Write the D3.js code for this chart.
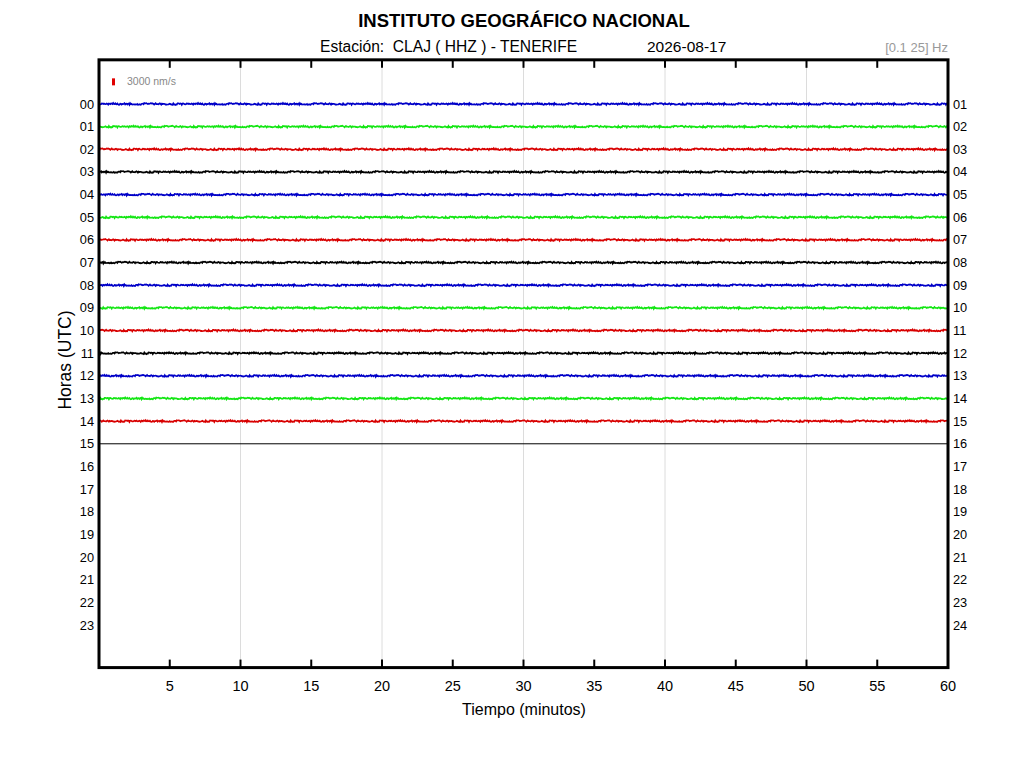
<!DOCTYPE html>
<html>
<head>
<meta charset="utf-8">
<script src="https://cdn.jsdelivr.net/npm/d3@7"></script>
<style>
  body { margin: 0; background: #fff; }
  svg text { font-family: "Liberation Sans", Arial, sans-serif; }
</style>
</head>
<body>
<div id="chart"></div>
<script>
// hours on the left and right, trace rows and colors
const leftHours = d3.range(0, 24).map(h => String(h).padStart(2, '0'));
const rightHours = d3.range(1, 25).map(h => String(h).padStart(2, '0'));
const traceHours = d3.range(0, 15);
const traceColors = ['#0000c8', '#14e614', '#d80000', '#000000'];
const minuteTicks = [5, 10, 15, 20, 25, 30, 35, 40, 45, 50, 55, 60];
const gridMinutes = [10, 20, 30, 40, 50];
const scaleBarNm = 3000;

// background noise amplitudes (nm/s), hand read, reused along each row
const noise = [120,-340,560,-80,-610,230,410,-150,-720,90,300,-470,640,-30,-250,510,-560,180,40,-390,
  820,-120,-450,260,370,-640,150,-60,480,-310,-90,690,-520,210,-170,350,-780,60,440,-230,
  -380,570,-40,-290,130,720,-600,250,-110,400,-500,20,310,-660,470,-200,-20,590,-430,170,
  90,-740,360,-130,530,-280,-470,240,620,-350,-10,450,-580,110,280,-190,-700,380,50,-420,
  660,-260,140,-540,30,500,-320,-80,760,-450,200,-610,330,-150,-40,550,-380,80,420,-690,
  270,-100,610,-240,-520,160,390,-30,-300,700,-470,60,-160,480,-560,220,350,-210,-60,540];

const width = 1024, height = 768;
const svg = d3.select('#chart').append('svg')
  .attr('width', width)
  .attr('height', height);

const x = d3.scaleLinear().domain([0, 60]).range([99, 948]);
const y = d3.scaleLinear().domain([0, 23]).range([104, 625]);
const yTop = y(-1.95), yBottom = y(24.88);
// nm/s -> pixels (3000 nm/s is about 7 px on the bar)
const amp = d3.scaleLinear().domain([0, scaleBarNm]).range([0, 7]);

// title
svg.append('text').attr('x', 524).attr('y', 27)
  .attr('text-anchor', 'middle').attr('font-size', 18.5).attr('font-weight', 'bold')
  .text('INSTITUTO GEOGRÁFICO NACIONAL');
svg.append('text').attr('x', 320).attr('y', 51.5).attr('font-size', 15.6)
  .attr('xml:space', 'preserve').style('white-space', 'pre')
  .text('Estación:  CLAJ ( HHZ ) - TENERIFE');
svg.append('text').attr('x', 647).attr('y', 51.5).attr('font-size', 15.5)
  .text('2026-08-17');
svg.append('text').attr('x', 948).attr('y', 52).attr('text-anchor', 'end')
  .attr('font-size', 13).attr('fill', '#999')
  .text('[0.1 25] Hz');

// grid
svg.append('g').selectAll('line').data(gridMinutes).join('line')
  .attr('x1', d => x(d)).attr('x2', d => x(d))
  .attr('y1', yTop).attr('y2', yBottom)
  .attr('stroke', '#dcdcdc').attr('stroke-width', 1);

// ticks top and bottom
const ticks = svg.append('g');
ticks.selectAll('.tb').data(minuteTicks.slice(0, -1)).join('line').attr('class', 'tb')
  .attr('x1', d => x(d)).attr('x2', d => x(d))
  .attr('y1', yBottom).attr('y2', yBottom - 8)
  .attr('stroke', '#000').attr('stroke-width', 2);
ticks.selectAll('.tt').data(minuteTicks.slice(0, -1)).join('line').attr('class', 'tt')
  .attr('x1', d => x(d)).attr('x2', d => x(d))
  .attr('y1', yTop).attr('y2', yTop + 8)
  .attr('stroke', '#000').attr('stroke-width', 2);

// bottom tick labels
svg.append('g').selectAll('text').data(minuteTicks).join('text')
  .attr('x', d => x(d)).attr('y', 691)
  .attr('text-anchor', 'middle').attr('font-size', 14.5)
  .text(d => d);

// hour labels
svg.append('g').selectAll('text').data(leftHours).join('text')
  .attr('x', 94).attr('y', (d, i) => y(i) + 4.5)
  .attr('text-anchor', 'end').attr('font-size', 12.8)
  .text(d => d);
svg.append('g').selectAll('text').data(rightHours).join('text')
  .attr('x', 953).attr('y', (d, i) => y(i) + 4.5)
  .attr('font-size', 12.8)
  .text(d => d);

// axis titles
svg.append('text').attr('x', 524).attr('y', 715)
  .attr('text-anchor', 'middle').attr('font-size', 16)
  .text('Tiempo (minutos)');
svg.append('text')
  .attr('transform', `translate(71,360) rotate(-90)`)
  .attr('text-anchor', 'middle').attr('font-size', 17.5)
  .text('Horas (UTC)');

// traces
const line = d3.line().x(d => x(d.m)).y(d => d.y);
const steps = d3.range(0, 60.001, 0.05);
svg.append('g').selectAll('path').data(traceHours).join('path')
  .attr('d', h => line(steps.map((m, k) => ({
    m: m,
    y: y(h) - 0.5 * amp(noise[(h * 37 + k * 7) % noise.length])
  }))))
  .attr('fill', 'none')
  .attr('stroke', h => traceColors[h % traceColors.length])
  .attr('stroke-width', 1.7);

// current hour: flat line
svg.append('line')
  .attr('x1', x(0)).attr('x2', x(60))
  .attr('y1', y(15)).attr('y2', y(15))
  .attr('stroke', '#000').attr('stroke-width', 1);

// scale bar
svg.append('rect').attr('x', 112).attr('y', y(-1) - amp(scaleBarNm) + 4)
  .attr('width', 3).attr('height', amp(scaleBarNm))
  .attr('fill', '#e00000');
svg.append('text').attr('x', 127).attr('y', y(-1) + 4)
  .attr('font-size', 10.5).attr('fill', '#888')
  .text(scaleBarNm + ' nm/s');

// frame
svg.append('rect')
  .attr('x', x(0)).attr('y', yTop)
  .attr('width', x(60) - x(0)).attr('height', yBottom - yTop)
  .attr('fill', 'none').attr('stroke', '#000').attr('stroke-width', 3);
</script>
</body>
</html>
